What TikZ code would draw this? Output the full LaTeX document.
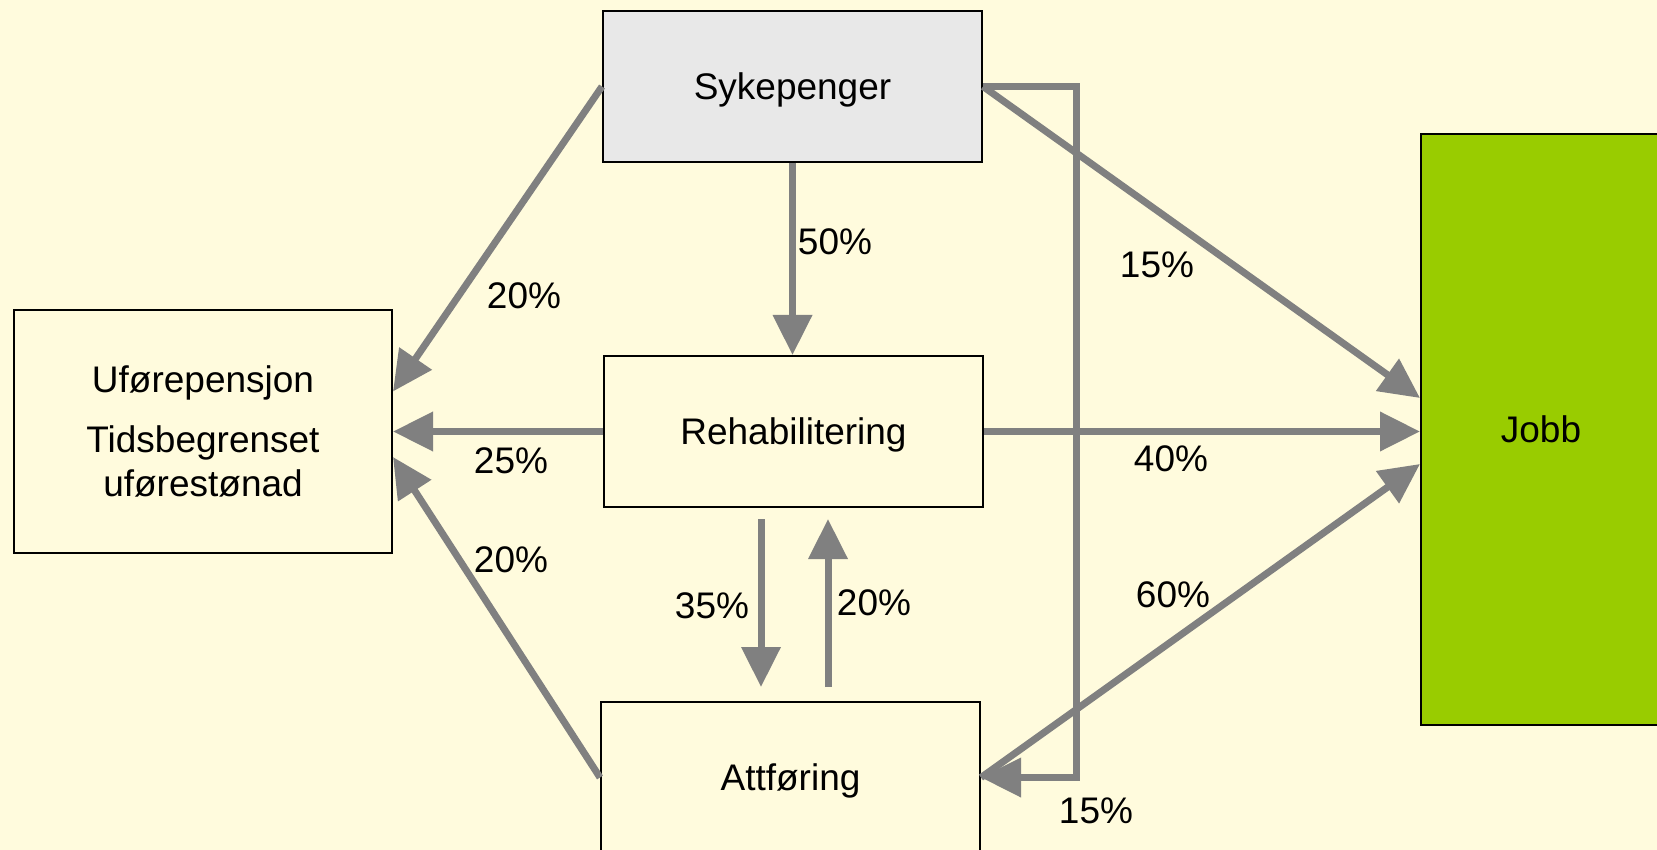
\documentclass[tikz,border=0pt]{standalone}
\usepackage{fontspec}
\setmainfont{Liberation Sans}
\usetikzlibrary{arrows.meta,calc}
\definecolor{bg}{HTML}{FFFBDD}
\definecolor{sykfill}{HTML}{E8E8E8}
\definecolor{jobbfill}{HTML}{99CC00}
\definecolor{arrgray}{HTML}{808080}
\begin{document}
\begin{tikzpicture}[x=1pt,y=-1pt,
  box/.style={draw=black, line width=2pt, fill=bg, minimum width=379pt, minimum height=151pt,
    inner sep=0pt, text depth=0pt, font=\fontsize{37}{44}\selectfont},
  flow/.style={draw=arrgray, line width=7pt, -{Triangle[length=40pt,width=38pt]}},
  lbl/.style={font=\fontsize{37}{44}\selectfont, inner sep=0pt}]
\useasboundingbox (0,0) rectangle (1657,850);
\clip (0,0) rectangle (1657,850);
\fill[bg] (0,0) rectangle (1657,850);
% boxes
\node[box, fill=sykfill] (syk) at (792.5,86.5) {Sykepenger};
\node[box, minimum width=378pt, minimum height=243pt, align=center] (ufo) at (203,431.5)
  {Uførepensjon\\[16pt]Tidsbegrenset\\uførestønad};
\node[box] (reh) at (793.5,431.5) {Rehabilitering};
\node[box] (att) at (790.5,777.5) {Attføring};
\node[box, fill=jobbfill, minimum width=240pt, minimum height=591pt] (job) at (1541,429.5) {Jobb};
% connectors
\draw[flow] (syk.west) -- ([yshift=40pt]ufo.east);
\draw[flow] (syk.south) -- (syk.south |- reh.north);
\draw[flow] (syk.east) -- ([yshift=31.5pt]job.west);
\draw[flow] (syk.east) -- ++(93,0) |- (att.east);
\draw[flow] (reh.west) -- (reh.west -| ufo.east);
\draw[flow] (reh.east) -- (reh.east -| job.west);
\draw[flow] ([xshift=-32.5pt,yshift=-11pt]reh.south) -- ([xshift=-29.5pt,yshift=14pt]att.north);
\draw[flow] ([xshift=37.5pt,yshift=14pt]att.north) -- ([xshift=34.5pt,yshift=-11pt]reh.south);
\draw[flow] (att.west) -- ([yshift=-25.5pt]ufo.east);
\draw[flow] (att.east) -- ([yshift=-34.5pt]job.west);
% labels
\node[lbl] (l1) at (524,296) {20\%};
\node[lbl] (l2) at (835,242) {50\%};
\node[lbl] (l3) at (1157,265) {15\%};
\node[lbl] (l4) at (1096,811) {15\%};
\node[lbl] (l5) at (511,461) {25\%};
\node[lbl] (l6) at (1171,459) {40\%};
\node[lbl] (l7) at (712,606) {35\%};
\node[lbl] (l8) at (874,603) {20\%};
\node[lbl] (l9) at (511,560) {20\%};
\node[lbl] (l10) at (1173,595) {60\%};
\end{tikzpicture}
\end{document}
